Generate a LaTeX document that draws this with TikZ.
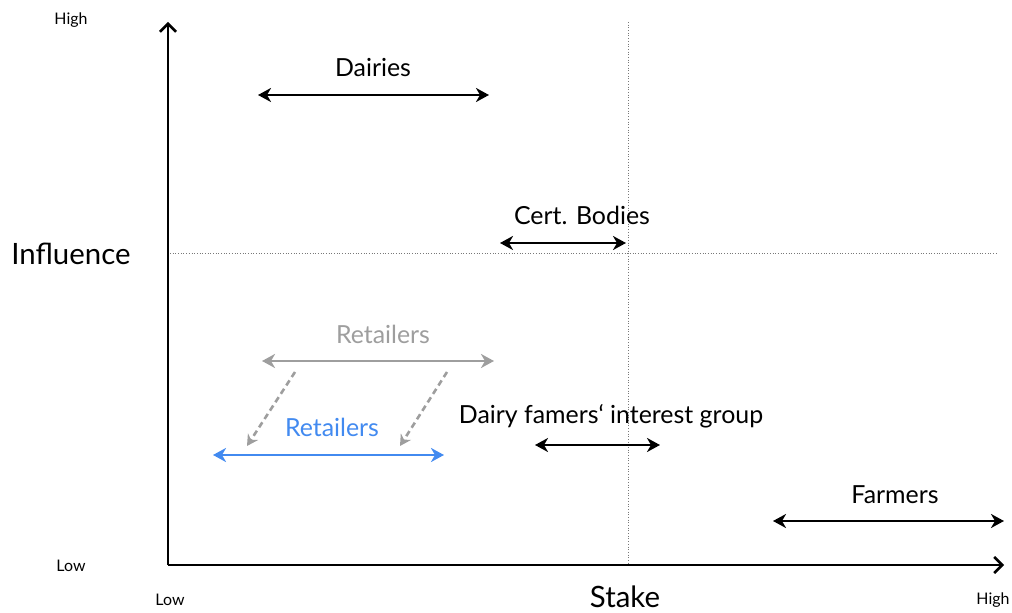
\documentclass[tikz,border=0pt]{standalone}
\usepackage{fontspec}
\setmainfont{Lato}
\usetikzlibrary{arrows.meta}
\definecolor{retgray}{RGB}{158,158,158}
\definecolor{retblue}{RGB}{66,138,240}
\definecolor{guide}{RGB}{120,120,120}
\tikzset{
  axisline/.style={line width=3pt, -{Straight Barb[length=8bp,width=16bp,line width=2.6pt]}},
  guideline/.style={guide, line width=0.7pt, dotted},
  spanarrow/.style={line width=2.8pt, {Stealth[length=13bp,width=14bp,inset=4bp]}-{Stealth[length=13bp,width=14bp,inset=4bp]}},
  movearrow/.style={retgray, line width=2.6pt, dash pattern=on 6bp off 4bp, -{Stealth[length=11bp,width=12bp,inset=3.5bp]}},
  lbl/.style={inner sep=0pt, font=\fontsize{25}{28}\selectfont},
  big/.style={inner sep=0pt, font=\fontsize{29.5}{34}\selectfont},
  small/.style={inner sep=0pt, font=\fontsize{16}{19}\selectfont},
}
\begin{document}
\begin{tikzpicture}[x=1bp,y=-1bp]
\useasboundingbox (0,0) rectangle (1012,613);
% axes
\coordinate (O) at (168,565);
\coordinate (ytip) at (168,22);
\coordinate (xtip) at (1004,565);
\coordinate (vtop) at (628,22);
\coordinate (vbot) at (628,565);
\coordinate (hl) at (170,253);
\coordinate (hr) at (996,253);
\draw[guideline] (vtop) -- (vbot);
\draw[guideline] (hl) -- (hr);
\draw[axisline] (O) -- (ytip);
\draw[axisline] (O) -- (xtip);
% axis labels
\node[small] (yhigh) at (71,20) {High};
\node[small] (ylow) at (71,566) {Low};
\node[big] (infl) at (71,254) {Influence};
\node[small] (xlow) at (170,600) {Low};
\node[big] (stake) at (625,597) {Stake};
\node[small] (xhigh) at (993,600) {High};
% Dairies
\node[lbl] (dairies) at (373,68) {Dairies};
\coordinate (dA) at (258,95); \coordinate (dB) at (489,95);
\draw[spanarrow] (dA) -- (dB);
% Cert. Bodies
\node[lbl] (cert) at (582,215) {Cert. Bodies};
\coordinate (cA) at (500,243); \coordinate (cB) at (626,243);
\draw[spanarrow] (cA) -- (cB);
% Retailers gray
\node[lbl, text=retgray] (retg) at (383,334) {Retailers};
\coordinate (rgA) at (262,361); \coordinate (rgB) at (494,361);
\draw[spanarrow, retgray] (rgA) -- (rgB);
% Retailers blue
\node[lbl, text=retblue] (retb) at (332,427) {Retailers};
\coordinate (rbA) at (213,455); \coordinate (rbB) at (444,455);
\draw[spanarrow, retblue] (rbA) -- (rbB);
% move arrows
\coordinate (s1a) at (295,372); \coordinate (s1b) at (247,446);
\coordinate (s2a) at (447,372); \coordinate (s2b) at (400,446);
\draw[movearrow] (s1a) -- (s1b);
\draw[movearrow] (s2a) -- (s2b);
% Dairy famers' interest group
\node[lbl] (dfig) at (611,416) {Dairy famers‘ interest group};
\coordinate (gA) at (535,445); \coordinate (gB) at (660,445);
\draw[spanarrow] (gA) -- (gB);
% Farmers
\node[lbl] (farm) at (895,495) {Farmers};
\coordinate (fA) at (773,521); \coordinate (fB) at (1004,521);
\draw[spanarrow] (fA) -- (fB);
\end{tikzpicture}
\end{document}
